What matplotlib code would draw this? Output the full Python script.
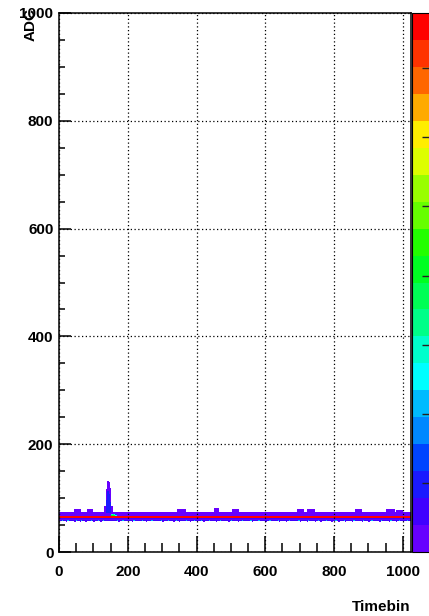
import numpy as np
import matplotlib.pyplot as plt
from matplotlib.colors import ListedColormap
from matplotlib.ticker import MultipleLocator

plt.rcParams['font.family'] = ['Liberation Sans', 'DejaVu Sans']
plt.rcParams['font.weight'] = 'bold'

# colour bar bands, bottom to top
palette = ['#6600ff', '#4000ff', '#1a1aff', '#0044ff', '#0088ff', '#00bbff',
           '#00ffff', '#00ffcc', '#00ff88', '#00ff55', '#00ff22', '#22ff00',
           '#66ff00', '#99ff00', '#ddff00', '#ffee00', '#ffaa00', '#ff6600',
           '#ff3300', '#ff0000']
z_max = 39
z_ticks = [5, 10, 15, 20, 25, 30, 35]

# baseline profile: ADC bin -> entries, same in every timebin
base_adc = [58, 60, 62, 64, 66, 68, 70, 72]
base_cnt = [3, 1, 2, 38, 1, 1, 1, 1]

# timebins where the row under the baseline is light blue
cyan_tb = [8, 24, 48, 64, 92, 112, 128, 168, 184, 216, 240, 268, 296, 316,
           340, 368, 392, 412, 436, 468, 500, 532, 556, 580, 612, 636, 668,
           696, 724, 752, 776, 804, 828, 856, 884, 908, 936, 964, 988, 1012]

# timebins with stray entries just under the baseline
low_dot_tb = [20, 44, 60, 76, 100, 120, 172, 212, 252, 300, 332, 348, 380, 400,
              420, 456, 492, 520, 560, 600, 640, 660, 700, 720, 744, 760, 792,
              812, 832, 852, 880, 900, 932, 960, 980, 1000]

# small bumps above the baseline (start, end, top ADC)
bump_start = [44, 80, 344, 452, 504, 692, 720, 860, 952, 980]
bump_end = [60, 96, 364, 460, 520, 708, 740, 876, 972, 996]
bump_top = [80, 80, 80, 82, 80, 80, 80, 80, 80, 78]

# pulse around timebin 140
spike_tb = [132, 136, 140, 144, 148, 152]
spike_top = [86, 116, 132, 130, 118, 86]
spike_core = [0, 96, 114, 108, 92, 0]

# after-pulse blob
blob_tb = [152, 156, 160, 164]
blob_cnt = [20, 22, 18, 12]

tb_edges = np.arange(0, 1028, 4)
adc_edges = np.arange(0, 1002, 2)
counts = np.zeros((len(adc_edges) - 1, len(tb_edges) - 1))

for a, c in zip(base_adc, base_cnt):
    counts[a // 2, :] = c
for t in cyan_tb:
    counts[58 // 2, t // 4] = 11
for t in low_dot_tb:
    counts[56 // 2, t // 4] = 1
for s, e, top in zip(bump_start, bump_end, bump_top):
    for t in range(s, e + 1, 4):
        for a in range(74, top, 2):
            counts[a // 2, t // 4] = 1
for t, top, core in zip(spike_tb, spike_top, spike_core):
    for a in range(68, top, 2):
        counts[a // 2, t // 4] = 1
    for a in range(72, core, 2):
        counts[a // 2, t // 4] = 5
for t, c in zip(blob_tb, blob_cnt):
    counts[66 // 2, t // 4] = c
    counts[68 // 2, t // 4] = c - 6

data = np.ma.masked_equal(counts, 0)

W, H = 429, 616
fig = plt.figure(figsize=(W / 100, H / 100), dpi=100)
ax = fig.add_axes([59 / W, 1 - 552 / H, 352 / W, 539 / H])
mesh = ax.pcolormesh(tb_edges, adc_edges, data, cmap=ListedColormap(palette),
                     vmin=0, vmax=z_max)

ax.set_xlim(0, 1024)
ax.set_ylim(0, 1000)
ax.xaxis.set_major_locator(MultipleLocator(200))
ax.xaxis.set_minor_locator(MultipleLocator(50))
ax.yaxis.set_major_locator(MultipleLocator(200))
ax.yaxis.set_minor_locator(MultipleLocator(50))
ax.tick_params(axis='x', which='major', direction='in', length=11.5, width=1.1,
               pad=9, labelsize=11)
ax.tick_params(axis='x', which='minor', direction='in', length=6.3, width=1.1)
ax.tick_params(axis='y', which='major', direction='in', length=8.6, width=1.1,
               pad=4, labelsize=11)
ax.tick_params(axis='y', which='minor', direction='in', length=4.3, width=1.1)
for sp in ax.spines.values():
    sp.set_linewidth(1.1)
ax.grid(True, which='major', linestyle=(0, (1, 2)), color='black', linewidth=0.9)
ax.set_axisbelow(False)

fig.text(410 / W, 1 - 607 / H, 'Timebin', ha='right', va='center',
         fontsize=11, fontweight='bold')
fig.text(31 / W, 1 - 8 / H, 'ADC', rotation=90, ha='center', va='top',
         fontsize=11, fontweight='bold')

# z axis: its labels fall outside the picture, as in the original
cax = fig.add_axes([412 / W, 1 - 552 / H, 18 / W, 539 / H])
cb = fig.colorbar(mesh, cax=cax, ticks=z_ticks)
cb.outline.set_linewidth(0.8)
cax.tick_params(direction='in', length=6, width=1, color='#222222',
                labelright=False)

fig.savefig('out.png', dpi=100)
